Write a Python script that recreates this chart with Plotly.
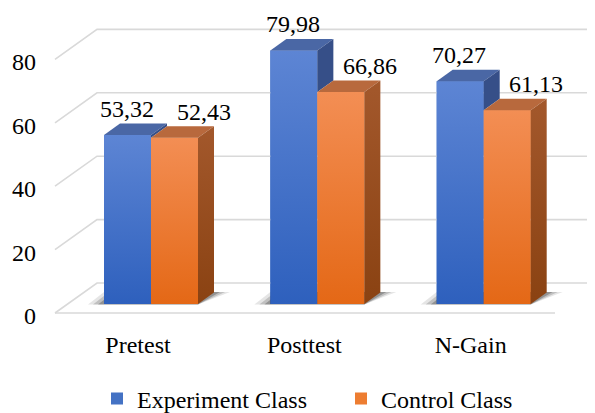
import plotly.graph_objects as go

# ---------------- data ----------------
categories = ["Pretest", "Posttest", "N-Gain"]
experiment = [53.32, 79.98, 70.27]
control = [52.43, 66.86, 61.13]
series_names = ["Experiment Class", "Control Class"]
y_ticks = [0, 20, 40, 60, 80]
y_tick_labels = ["0", "20", "40", "60", "80"]

# ---------------- layout geometry ----------------
# the page body has an 8px margin, so the figure starts 8px in from the window corner
OFF = 8
W, H = 595 - OFF, 413 - OFF
M_B = 93 - OFF
HP = H - M_B
DOM_PX = 37 - OFF      # left edge of x domain (figure px)
CAT_PX = 166.35        # px per category
Y_PX = 3.17            # px per value unit
X0 = -(151 - OFF - DOM_PX) / CAT_PX
X1 = X0 + (W - DOM_PX) / CAT_PX
Y1 = (304 - OFF) / Y_PX
Y0 = Y1 - HP / Y_PX


def ux(px):
    return px / CAT_PX


def uy(px):
    return px / Y_PX


def xat(ref_px):
    return X0 + (ref_px - OFF - DOM_PX) / CAT_PX


BW = 47 / CAT_PX
DX, DY = ux(16), uy(11.5)          # bar depth
FLOOR = uy(9)                      # floor front edge below bar plane
LABEL_DROP = uy(11.5)              # value tick labels sit at the floor front edge
WALL_DY = uy(30)                   # wall above floor front edge
LABEL_SHIFT = ux(13)

FONT = "Liberation Serif"
FS = 24
BLUE_GRAD = [[0, "rgb(46,96,189)"], [1, "rgb(93,133,212)"]]
ORANGE_GRAD = [[0, "rgb(228,104,22)"], [1, "rgb(243,142,84)"]]
BLUE_TOP = "#4a67a5"
BLUE_SIDE = "#364f88"
ORANGE_TOP = "#b8693d"
ORANGE_SIDE_GRAD = [[0, "rgb(138,66,18)"], [1, "rgb(163,88,44)"]]
GRID = "#d9d9d9"

x_pos = list(range(len(categories)))

fig = go.Figure()

# legend / hover bars (covered by the shaded faces below)
fig.add_trace(go.Bar(x=x_pos, y=experiment, name=series_names[0], width=BW, offset=-BW,
                     marker=dict(color="#4472c4", line=dict(width=0))))
fig.add_trace(go.Bar(x=x_pos, y=control, name=series_names[1], width=BW, offset=0,
                     marker=dict(color="#ed7d31", line=dict(width=0))))

# gridlines on the back wall (start at floor front plane, go back to the wall)
gx, gy = [], []
for v in y_ticks:
    base = v - FLOOR
    gx += [xat(55), xat(97), X1, None]
    gy += [base, base + WALL_DY, base + WALL_DY, None]
# floor front edge
gx += [xat(55), xat(555), None]
gy += [-FLOOR, -FLOOR, None]
fig.add_trace(go.Scatter(x=gx, y=gy, mode="lines", line=dict(color=GRID, width=1.6),
                         hoverinfo="skip", showlegend=False))


def poly(xs, ys, **kw):
    fig.add_trace(go.Scatter(x=xs + [xs[0]], y=ys + [ys[0]], mode="lines", fill="toself",
                             line=dict(width=0), hoverinfo="skip", showlegend=False, **kw))


for i, (vb, vo) in enumerate(zip(experiment, control)):
    xl, xm, xr = i - BW, i, i + BW
    # soft shadow on the floor
    for e, a in [(16, 0.10), (11, 0.16), (6, 0.24)]:
        poly([xl - ux(e), xr, xr + DX + ux(e), xl - ux(e) + DX],
             [-uy(0.6), -uy(0.6), DY + uy(0.6), DY + uy(0.6)],
             fillcolor=f"rgba(0,0,0,{a})")
    # blue bar
    poly([xl, xm, xm, xl], [0, 0, vb, vb],
         fillgradient=dict(type="vertical", colorscale=BLUE_GRAD))
    poly([xl, xm, xm + DX, xl + DX], [vb, vb, vb + DY, vb + DY], fillcolor=BLUE_TOP)
    if vb > vo:
        poly([xm, xm + DX, xm + DX, xm], [vo, vo + DY, vb + DY, vb], fillcolor=BLUE_SIDE)
    # orange bar
    poly([xm, xr, xr, xm], [0, 0, vo, vo],
         fillgradient=dict(type="vertical", colorscale=ORANGE_GRAD))
    poly([xm, xr, xr + DX, xm + DX], [vo, vo, vo + DY, vo + DY], fillcolor=ORANGE_TOP)
    poly([xr, xr + DX, xr + DX, xr], [0, DY, vo + DY, vo],
         fillgradient=dict(type="vertical", colorscale=ORANGE_SIDE_GRAD))

# data labels
annotations = []
for i, (vb, vo) in enumerate(zip(experiment, control)):
    annotations.append(dict(x=i - BW / 2, y=vb, text=f"{vb:.2f}".replace(".", ","),
                            showarrow=False, yshift=26, xshift=-1, yanchor="middle",
                            font=dict(family=FONT, size=FS, color="black")))
    annotations.append(dict(x=i + BW / 2, y=vo, text=f"{vo:.2f}".replace(".", ","),
                            showarrow=False, yshift=26, xshift=29, yanchor="middle",
                            font=dict(family=FONT, size=FS, color="black")))

fig.update_layout(
    width=W, height=H,
    margin=dict(l=0, r=0, t=0, b=M_B, pad=0, autoexpand=False),
    paper_bgcolor="white", plot_bgcolor="white",
    font=dict(family=FONT, size=FS, color="black"),
    barmode="group",
    showlegend=True,
    legend=dict(orientation="h", x=(97 - OFF) / W, xanchor="left",
                y=1 - (399 - OFF) / HP, yanchor="middle",
                entrywidth=199, entrywidthmode="pixels",
                font=dict(family=FONT, size=FS, color="black"), traceorder="normal",
                itemclick=False, bgcolor="rgba(0,0,0,0)"),
    annotations=annotations,
    xaxis=dict(domain=[DOM_PX / W, 1], range=[X0, X1], showgrid=False, zeroline=False,
               showline=False, ticks="", tickvals=[p - LABEL_SHIFT for p in x_pos],
               ticktext=categories, fixedrange=True, automargin=False),
    yaxis=dict(range=[Y0, Y1], showgrid=False, zeroline=False, showline=False, ticks="",
               tickvals=[v - LABEL_DROP for v in y_ticks], ticktext=y_tick_labels,
               fixedrange=True, automargin=False),
)

fig.write_html("out.html")
